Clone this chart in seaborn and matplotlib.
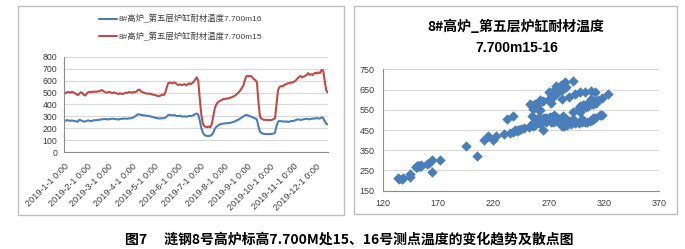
import numpy as np
import pandas as pd
import matplotlib
matplotlib.use('Agg')
import matplotlib.pyplot as plt
import matplotlib.dates as mdates
import seaborn as sns
from matplotlib.patches import Rectangle
from matplotlib.ticker import FuncFormatter

sns.set_theme(style='white')
plt.rcParams['font.family'] = ['Liberation Sans', 'Noto Sans CJK SC', 'DejaVu Sans']

# ---------------- data ----------------
series_m16 = '8#高炉_第五层炉缸耐材温度7.700m16'
series_m15 = '8#高炉_第五层炉缸耐材温度7.700m15'
start_date = '2019-01-01'
step_days = 2

temp_m15 = [490, 498, 505, 503, 500, 507, 502, 495, 488, 478,
            492, 503, 497, 480, 476, 492, 505, 503, 508, 505,
            510, 506, 509, 512, 515, 522, 512, 505, 500, 503,
            507, 500, 497, 502, 498, 493, 488, 495, 490, 488,
            497, 500, 498, 505, 502, 500, 506, 503, 510, 522,
            525, 510, 503, 498, 495, 492, 490, 492, 486, 483,
            480, 477, 472, 470, 476, 482, 480, 495, 540, 578,
            585, 582, 578, 586, 580, 568, 565, 570, 562, 568,
            572, 560, 570, 578, 572, 580, 592, 610, 628, 600,
            450, 320, 240, 218, 212, 210, 215, 208, 235, 300,
            370, 400, 418, 428, 435, 440, 448, 446, 452, 450,
            456, 460, 465, 472, 480, 492, 505, 520, 540, 560,
            605, 638, 642, 636, 640, 628, 612, 605, 585, 420,
            300, 280, 274, 270, 272, 268, 270, 267, 272, 275,
            285, 400, 520, 548, 555, 552, 562, 570, 575, 580,
            578, 588, 585, 595, 605, 620, 632, 640, 628, 635,
            640, 648, 665, 650, 655, 648, 660, 668, 662, 670,
            665, 692, 685, 600, 520, 502]

temp_m16 = [260, 265, 268, 265, 262, 266, 263, 260, 258, 255,
            272, 266, 262, 255, 258, 263, 266, 262, 260, 265,
            268, 267, 270, 271, 273, 275, 277, 278, 276, 274,
            276, 279, 281, 279, 277, 275, 274, 277, 280, 279,
            282, 281, 280, 283, 284, 287, 292, 300, 310, 318,
            316, 312, 310, 309, 307, 305, 303, 300, 297, 294,
            290, 287, 284, 282, 283, 284, 285, 288, 298, 310,
            313, 311, 308, 312, 306, 302, 304, 306, 300, 298,
            301, 297, 300, 305, 302, 306, 312, 318, 324, 315,
            265, 205, 165, 145, 138, 135, 134, 137, 145, 165,
            195, 212, 222, 230, 235, 238, 240, 241, 243, 242,
            245, 248, 252, 256, 262, 268, 275, 283, 292, 300,
            308, 312, 308, 303, 298, 294, 288, 282, 272, 215,
            172, 160, 155, 152, 151, 150, 152, 150, 153, 155,
            162, 220, 255, 262, 260, 256, 258, 255, 257, 253,
            258, 262, 260, 265, 270, 275, 273, 270, 272, 276,
            278, 280, 277, 275, 279, 282, 280, 284, 286, 281,
            283, 292, 285, 262, 238, 232]

line_ylim = (0, 800)
line_yticks = [0, 100, 200, 300, 400, 500, 600, 700, 800]
scatter_xlim = (120, 370)
scatter_ylim = (150, 750)
scatter_xticks = [120, 170, 220, 270, 320, 370]
scatter_yticks = [150, 250, 350, 450, 550, 650, 750]

title_line1 = '8#高炉_第五层炉缸耐材温度'
title_line2 = '7.700m15-16'
caption = '图7\u3000 涟钢8号高炉标高7.700M处15、16号测点温度的变化趋势及散点图'

dates = pd.date_range(start_date, periods=len(temp_m15), freq=f'{step_days}D')
df_long = pd.concat([
    pd.DataFrame({'date': dates, 'temp': temp_m16, 'series': series_m16}),
    pd.DataFrame({'date': dates, 'temp': temp_m15, 'series': series_m15}),
], ignore_index=True)
df_wide = pd.DataFrame({'m16': temp_m16, 'm15': temp_m15})

blue = '#4A7EBB'
red = '#BE4B48'
grid_c = '#D9D9D9'
spine_c = '#8C8C8C'
label_c = '#404040'
border_c = '#BFBFBF'

# ---------------- figure ----------------
W, H = 685, 249
fig = plt.figure(figsize=(W / 100, H / 100), dpi=100)
fig.patch.set_facecolor('white')

def fx(px):
    return px / W

def fy(py):
    return 1 - py / H

def rect(x0, y0, x1, y1):
    fig.add_artist(Rectangle((fx(x0), fy(y1)), (x1 - x0) / W, (y1 - y0) / H,
                             transform=fig.transFigure, fill=False,
                             ec=border_c, lw=1.0))

rect(18, 5.7, 344.3, 215)
rect(354.3, 5.7, 676.5, 214)

# ---- left: line chart ----
ax1 = fig.add_axes([fx(64.3), fy(152), (327.7 - 64.3) / W, 95 / H])
sns.lineplot(data=df_long, x='date', y='temp', hue='series',
             hue_order=[series_m16, series_m15], palette=[blue, red],
             estimator=None, linewidth=1.5, ax=ax1)
ax1.set_xlim(dates[0], dates[-1])
ax1.set_ylim(*line_ylim)
ax1.set_yticks(line_yticks)
ax1.xaxis.set_major_locator(mdates.MonthLocator(bymonthday=1))

def month_fmt(x, pos):
    d = mdates.num2date(x)
    return f'{d.year}-{d.month}-{d.day} 0:00'

ax1.xaxis.set_major_formatter(FuncFormatter(month_fmt))
ax1.set_xlabel('')
ax1.set_ylabel('')
ax1.yaxis.grid(True, color=grid_c, lw=0.8)
ax1.xaxis.grid(False)
ax1.set_axisbelow(True)
for s in ['top', 'right']:
    ax1.spines[s].set_visible(False)
for s in ['left', 'bottom']:
    ax1.spines[s].set_color(spine_c)
    ax1.spines[s].set_linewidth(0.8)
ax1.tick_params(axis='both', direction='out', length=3, width=0.7,
                color=spine_c, labelcolor=label_c)
ax1.tick_params(axis='y', labelsize=6.3, pad=2)
ax1.tick_params(axis='x', labelsize=6.6, pad=4)
for lab in ax1.get_xticklabels():
    lab.set_rotation(45)
    lab.set_ha('right')
    lab.set_rotation_mode('anchor')

handles, labels = ax1.get_legend_handles_labels()
ax1.legend(handles, labels, loc='upper left',
           bbox_to_anchor=(fx(99), fy(14.5)), bbox_transform=fig.transFigure,
           frameon=False, fontsize=6, handlelength=2.1, handletextpad=0.25,
           labelspacing=1.0, borderpad=0, borderaxespad=0,
           labelcolor=label_c)

# ---- right: scatter ----
ax2 = fig.add_axes([fx(382.7), fy(190.7), (659.3 - 382.7) / W, 121.4 / H])
sns.scatterplot(data=df_wide, x='m16', y='m15', marker='D', s=28,
                color=blue, linewidth=0, ax=ax2)
ax2.set_xlim(*scatter_xlim)
ax2.set_ylim(*scatter_ylim)
ax2.set_xticks(scatter_xticks)
ax2.set_yticks(scatter_yticks)
ax2.set_xlabel('')
ax2.set_ylabel('')
ax2.yaxis.grid(True, color=grid_c, lw=0.8)
ax2.xaxis.grid(False)
ax2.set_axisbelow(True)
for s in ['top', 'right']:
    ax2.spines[s].set_visible(False)
for s in ['left', 'bottom']:
    ax2.spines[s].set_color(spine_c)
    ax2.spines[s].set_linewidth(0.8)
ax2.tick_params(axis='both', direction='out', length=3, width=0.7,
                color=spine_c, labelcolor=label_c, labelsize=6.5, pad=3)

fig.text(fx(516), fy(26.7), title_line1, ha='center', va='center',
         fontsize=10, fontweight='bold', color='#000000',
         family=['Noto Sans CJK SC', 'DejaVu Sans'])
fig.text(fx(516.5), fy(47.5), title_line2, ha='center', va='center',
         fontsize=10, fontweight='bold', color='#000000',
         family=['Liberation Sans', 'Noto Sans CJK SC'])

fig.text(fx(349), fy(239.5), caption, ha='center', va='center',
         fontsize=10, fontweight='bold', color='#000000',
         family=['Noto Sans CJK SC', 'DejaVu Sans'])

fig.savefig('out.png', dpi=100, facecolor='white')
